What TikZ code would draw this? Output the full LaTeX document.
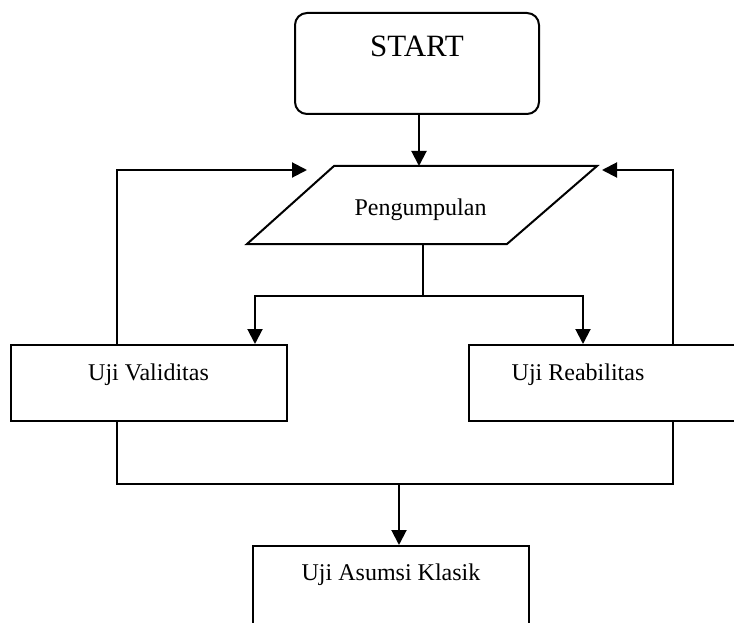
\documentclass[tikz,border=0pt]{standalone}
\usepackage{fontspec}
\setmainfont{Liberation Serif}
\usetikzlibrary{arrows.meta}
\begin{document}
\begin{tikzpicture}[x=1pt,y=-1pt,line width=2pt,line join=miter,
  arr/.style={-{Triangle[length=15pt,width=15pt]}},
  shapebox/.style={draw,inner sep=0pt,minimum width=#1},
  lbl/.style={anchor=base,inner sep=0pt,font=\fontsize{24}{24}\selectfont},
  biglbl/.style={anchor=base,inner sep=0pt,font=\fontsize{31}{31}\selectfont}]
\useasboundingbox (0,0) rectangle (734,623);
\clip (0,0) rectangle (734,623);
\fill[white] (0,0) rectangle (734,623);

% shapes
\node[shapebox=244pt,rounded corners=12pt,minimum height=101pt] (start) at (417,63.5) {};
\coordinate (pa) at (334,166);
\coordinate (pb) at (597,166);
\coordinate (pc) at (507,244);
\coordinate (pd) at (247,244);
\draw (pa) -- (pb) -- (pc) -- (pd) -- cycle;
\node[shapebox=276pt,minimum height=76pt] (vbox) at (149,383) {};
\node[shapebox=291pt,minimum height=76pt] (rbox) at (614.5,383) {};
\node[shapebox=276pt,minimum height=94pt] (abox) at (391,593) {};

% texts
\node[biglbl] (starttxt) at (417,57) {START};
\node[lbl] (ptxt) at (420.5,215) {Pengumpulan};
\node[lbl] (vtxt) at (148.5,380) {Uji Validitas};
\node[lbl] (rtxt) at (578,380) {Uji Reabilitas};
\node[lbl] (atxt) at (391,580) {Uji Asumsi Klasik};

% helper coordinates
\coordinate (ptop) at (419,166);
\coordinate (pbot) at (423,244);
\coordinate (bj) at (423,296);
\coordinate (vl) at (255,0);
\coordinate (vr) at (583,0);
\coordinate (lx) at (117,0);
\coordinate (rx) at (673,0);
\coordinate (ltip) at (307,170);
\coordinate (rtip) at (602,170);
\coordinate (jy) at (0,484);
\coordinate (ax) at (399,0);

% connectors
\draw[arr] (start.south -| ptop) -- (ptop);
\draw (pbot) -- (bj);
\draw[arr] (bj) -| (vbox.north -| vl);
\draw[arr] (bj) -| (rbox.north -| vr);
\draw[arr] (vbox.north -| lx) |- (ltip);
\draw[arr] (rbox.north -| rx) |- (rtip);
\draw (vbox.south -| lx) -- (lx |- jy) -- (rx |- jy) -- (rbox.south -| rx);
\draw[arr] (ax |- jy) -- (abox.north -| ax);
\end{tikzpicture}
\end{document}
